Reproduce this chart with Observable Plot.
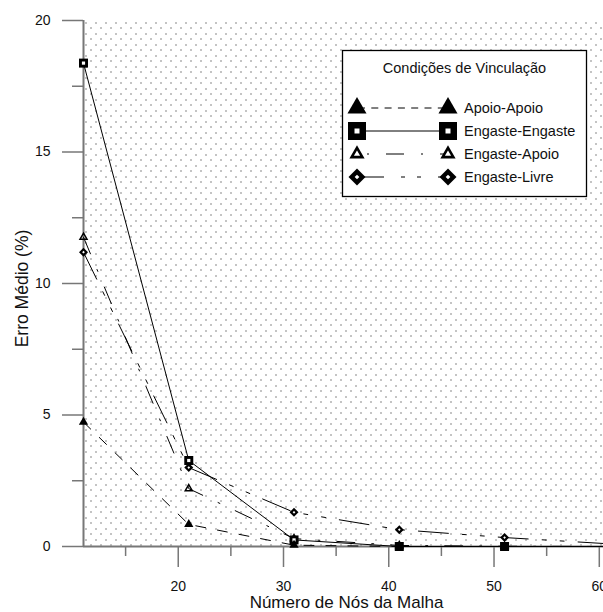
<!DOCTYPE html>
<html><head><meta charset="utf-8">
<script src="https://cdn.jsdelivr.net/npm/d3@7"></script>
<script src="https://cdn.jsdelivr.net/npm/@observablehq/plot@0.6"></script>
<style>
body{margin:0;background:#fff}
#chart{position:relative;width:603px;height:612px;overflow:hidden}
</style>
</head><body><div id="chart"></div>
<script>
// ---- data ----
const nodes = [11, 21, 31, 41, 51, 61];
const apoioApoio     = [4.73, 0.84, 0.05, 0.00, 0.00, 0.00];
const engasteEngaste = [18.38, 3.27, 0.25, 0.00, 0.00, 0.00];
const engasteApoio   = [11.76, 2.20, 0.30, 0.04, 0.01, 0.00];
const engasteLivre   = [11.19, 3.00, 1.30, 0.64, 0.34, 0.10];
const seriesNames = ["Apoio-Apoio", "Engaste-Engaste", "Engaste-Apoio", "Engaste-Livre"];
const xMajorTicks = [20, 30, 40, 50, 60];
const xMinorTicks = [15, 25, 35, 45, 55];
const yMajorTicks = [0, 5, 10, 15, 20];
const yMinorTicks = [2.5, 7.5, 12.5, 17.5];
const legendTitle = "Condições de Vinculação";
const xTitle = "Número de Nós da Malha";
const yTitle = "Erro Médio (%)";

const font = "'Liberation Sans', Arial, sans-serif";
const axisColor = "#777";
const rows = vals => nodes.map((n, i) => ({x: n, y: vals[i]}));
const AA = rows(apoioApoio), EE = rows(engasteEngaste), EA = rows(engasteApoio), EL = rows(engasteLivre);
const vis = arr => arr.filter(d => d.x <= 60);

const dashAA = "10,12", dashEA = "18,17,2,17", dashEL = "30,14,4,14,4,14";

const plot = Plot.plot({
  width: 603, height: 612,
  marginLeft: 83, marginRight: 0, marginTop: 20, marginBottom: 66,
  x: {domain: [11, 60.4]},
  y: {domain: [0, 20]},
  style: {fontFamily: font, fontSize: "14px", background: "white", color: "#111"},
  marks: [
    Plot.frame({fill: "url(#dotgrid)", stroke: "none"}),
    Plot.axisY({ticks: yMinorTicks, tickSize: 11, tickFormat: () => "", stroke: axisColor, strokeWidth: 1.5, label: null}),
    Plot.axisY({ticks: yMajorTicks, tickSize: 21, tickPadding: 12, stroke: axisColor, strokeWidth: 1.5, fontSize: 14, fill: "#111", label: null}),
    Plot.axisX({ticks: xMinorTicks, tickSize: 10, tickFormat: () => "", stroke: axisColor, strokeWidth: 1.5, label: null}),
    Plot.axisX({ticks: xMajorTicks, tickSize: 21, tickPadding: 14, stroke: axisColor, strokeWidth: 1.5, fontSize: 14, fill: "#111", label: null}),
    Plot.ruleX([11], {stroke: axisColor, strokeWidth: 2}),
    Plot.ruleY([0], {stroke: axisColor, strokeWidth: 2}),
    // lines
    Plot.line(EA, {x: "x", y: "y", stroke: "black", strokeWidth: 1, strokeDasharray: dashEA}),
    Plot.line(EL, {x: "x", y: "y", stroke: "black", strokeWidth: 1, strokeDasharray: dashEL}),
    Plot.line(EE, {x: "x", y: "y", stroke: "black", strokeWidth: 1}),
    Plot.line(AA, {x: "x", y: "y", stroke: "black", strokeWidth: 1, strokeDasharray: dashAA}),
    // markers
    Plot.dot(vis(EA), {x: "x", y: "y", symbol: "triangle", r: 2.6, fill: "none", stroke: "black", strokeWidth: 1.5}),
    Plot.dot(vis(EL), {x: "x", y: "y", symbol: "diamond2", r: 4.05, fill: "black", stroke: "none"}),
    Plot.dot(vis(EL), {x: "x", y: "y", symbol: "diamond2", r: 1.2, fill: "white", stroke: "none"}),
    Plot.dot(vis(EE), {x: "x", y: "y", symbol: "square", r: 5.08, fill: "black", stroke: "none"}),
    Plot.dot(vis(EE), {x: "x", y: "y", symbol: "square", r: 1.8, fill: "white", stroke: "none"}),
    Plot.dot(vis(AA), {x: "x", y: "y", symbol: "triangle", r: 3.45, fill: "black", stroke: "none"}),
    // titles
    Plot.text([xTitle], {text: d => d, frameAnchor: "bottom", lineAnchor: "middle", textAnchor: "middle", dx: 3, dy: 56, fontSize: 17, fill: "#111"}),
    Plot.text([yTitle], {text: d => d, frameAnchor: "left", lineAnchor: "middle", textAnchor: "middle", rotate: -90, dx: -61, dy: 5, fontSize: 17.5, fill: "#111"})
  ]
});

document.getElementById("chart").appendChild(plot);

const svg = d3.select(plot);
// dotted background pattern (staggered rows)
const defs = svg.insert("defs", ":first-child");
const pat = defs.append("pattern").attr("id", "dotgrid").attr("patternUnits", "userSpaceOnUse")
  .attr("x", 85).attr("y", 22).attr("width", 10).attr("height", 11);
pat.append("rect").attr("x", 0).attr("y", 0).attr("width", 1).attr("height", 1).attr("fill", "#111");
pat.append("rect").attr("x", 5).attr("y", 5).attr("width", 1).attr("height", 1).attr("fill", "#111");

// legend
const lg = svg.append("g").attr("font-family", font).attr("text-anchor", "start");
lg.append("rect").attr("x", 342.5).attr("y", 50.5).attr("width", 244).attr("height", 146)
  .attr("fill", "white").attr("stroke", "black").attr("stroke-width", 1.3);
lg.append("text").attr("x", 464.5).attr("y", 68).attr("text-anchor", "middle")
  .attr("dominant-baseline", "central").attr("font-size", 14.5).attr("fill", "#111").text(legendTitle);

const legendSpec = [
  {dash: "7,6.3", offset: -1, draw: (g) => g.append("path").attr("d", d3.symbol(d3.symbolTriangle, 157)()).attr("fill", "black")},
  {dash: null, offset: 0, draw: (g) => { g.append("path").attr("d", d3.symbol(d3.symbolSquare, 324)()).attr("fill", "black");
                               g.append("path").attr("d", d3.symbol(d3.symbolSquare, 25)()).attr("fill", "white"); }},
  {dash: "18,17,2,17", offset: 25, draw: (g) => g.append("path").attr("d", d3.symbol(d3.symbolTriangle, 50)()).attr("fill", "white").attr("stroke", "black").attr("stroke-width", 2.6)},
  {dash: "22,17,4,12,4,17", offset: -5, draw: (g) => { g.append("path").attr("d", d3.symbol(d3.symbolDiamond2, 184)()).attr("fill", "black");
                                  g.append("path").attr("d", d3.symbol(d3.symbolDiamond2, 14)()).attr("fill", "white"); }}
];
const rowY = [108, 131, 154, 177];
seriesNames.forEach((name, i) => {
  const y = rowY[i], s = legendSpec[i];
  const ln = lg.append("line").attr("x1", 357).attr("x2", 448).attr("y1", y).attr("y2", y)
    .attr("stroke", "black").attr("stroke-width", 1);
  if (s.dash) ln.attr("stroke-dasharray", s.dash).attr("stroke-dashoffset", s.offset);
  [357, 448].forEach(cx => s.draw(lg.append("g").attr("transform", `translate(${cx},${y})`)));
  lg.append("text").attr("x", 464).attr("y", y).attr("dominant-baseline", "central").attr("text-anchor", "start")
    .attr("font-size", 14.5).attr("fill", "#111").text(name);
});
</script>
</body></html>
